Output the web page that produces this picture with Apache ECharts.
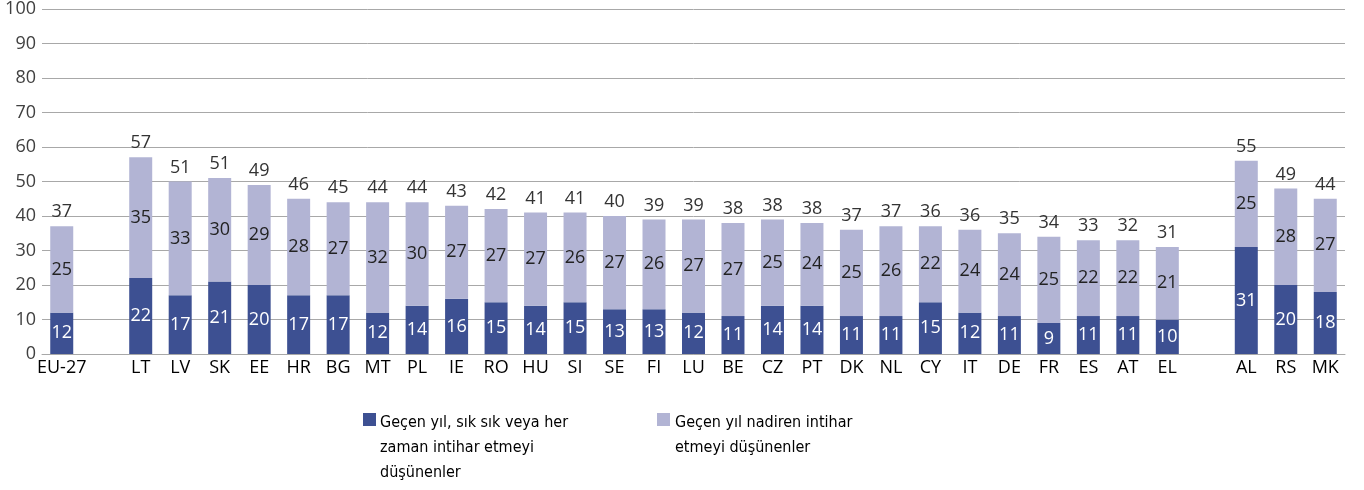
<!DOCTYPE html>
<html>
<head>
<meta charset="utf-8">
<script src="https://cdn.jsdelivr.net/npm/echarts@6/dist/echarts.min.js"></script>
<style>
  html, body { margin: 0; padding: 0; background: #fff; }
  #chart { width: 1364px; height: 490px; }
</style>
</head>
<body>
<div id="chart"></div>
<script>
// Country codes; empty strings leave a gap between the groups
const categories = ['EU-27', '', 'LT', 'LV', 'SK', 'EE', 'HR', 'BG', 'MT', 'PL', 'IE', 'RO', 'HU', 'SI', 'SE', 'FI', 'LU', 'BE', 'CZ', 'PT', 'DK', 'NL', 'CY', 'IT', 'DE', 'FR', 'ES', 'AT', 'EL', '', 'AL', 'RS', 'MK'];
// Often or always thought of suicide in the past year (%)
const oftenValues = [12, '-', 22, 17, 21, 20, 17, 17, 12, 14, 16, 15, 14, 15, 13, 13, 12, 11, 14, 14, 11, 11, 15, 12, 11, 9, 11, 11, 10, '-', 31, 20, 18];
// Rarely thought of suicide in the past year (%)
const rarelyValues = [25, '-', 35, 33, 30, 29, 28, 27, 32, 30, 27, 27, 27, 26, 27, 26, 27, 27, 25, 24, 25, 26, 22, 24, 24, 25, 22, 22, 21, '-', 25, 28, 27];
// Published totals shown above each column
const totalLabels = [37, '-', 57, 51, 51, 49, 46, 45, 44, 44, 43, 42, 41, 41, 40, 39, 39, 38, 38, 38, 37, 37, 36, 36, 35, 34, 33, 32, 31, '-', 55, 49, 44];
const yTicks = [0, 10, 20, 30, 40, 50, 60, 70, 80, 90, 100];

const legendNames = [
  'Geçen yıl, sık sık veya her\nzaman intihar etmeyi\ndüşünenler',
  'Geçen yıl nadiren intihar\netmeyi düşünenler'
];
const darkColor = '#3d5092';
const lightColor = '#b2b4d4';
const font = '"Open Sans", sans-serif';
const legendFont = '16px "DejaVu Sans Condensed", "Liberation Sans Narrow", sans-serif';

const chart = echarts.init(document.getElementById('chart'));
chart.setOption({
  animation: false,
  grid: { left: 42, right: 19, top: 8, height: 346 },
  xAxis: {
    type: 'category',
    data: categories,
    axisTick: { show: false },
    axisLine: { lineStyle: { color: '#a8a8a8', width: 1 } },
    axisLabel: { color: '#000', fontFamily: font, fontSize: 18, margin: 5, interval: 0 }
  },
  yAxis: {
    type: 'value',
    min: yTicks[0],
    max: yTicks[yTicks.length - 1],
    interval: 10,
    axisLine: { show: false },
    axisTick: { show: false },
    splitLine: { lineStyle: { color: '#a8a8a8', width: 1 } },
    axisLabel: { color: '#404040', fontFamily: font, fontSize: 18, margin: 6 }
  },
  series: [
    {
      name: legendNames[0],
      type: 'bar',
      stack: 'total',
      barWidth: 23,
      data: oftenValues,
      itemStyle: { color: darkColor },
      label: { show: true, position: 'inside', color: '#fff', fontFamily: font, fontSize: 18 }
    },
    {
      name: legendNames[1],
      type: 'bar',
      stack: 'total',
      barWidth: 23,
      data: rarelyValues,
      itemStyle: { color: lightColor },
      label: { show: true, position: 'inside', color: '#222', fontFamily: font, fontSize: 18 }
    },
    {
      // zero-height cap on each stack, used only to carry the total label
      name: 'total',
      type: 'bar',
      stack: 'total',
      barWidth: 23,
      data: totalLabels.map(v => (v === '-' ? '-' : 0)),
      itemStyle: { color: 'transparent' },
      label: {
        show: true,
        position: 'top',
        distance: 5,
        color: '#333',
        fontFamily: font,
        fontSize: 18,
        formatter: p => String(totalLabels[p.dataIndex])
      }
    }
  ],
  graphic: [
    { type: 'rect', left: 363, top: 413, shape: { width: 13, height: 13 }, style: { fill: darkColor } },
    {
      type: 'text', left: 380, top: 410,
      style: { text: legendNames[0], fill: '#000', font: legendFont, lineHeight: 25 }
    },
    { type: 'rect', left: 657, top: 413, shape: { width: 13, height: 13 }, style: { fill: lightColor } },
    {
      type: 'text', left: 675, top: 410,
      style: { text: legendNames[1], fill: '#000', font: legendFont, lineHeight: 25 }
    }
  ]
});
</script>
</body>
</html>
